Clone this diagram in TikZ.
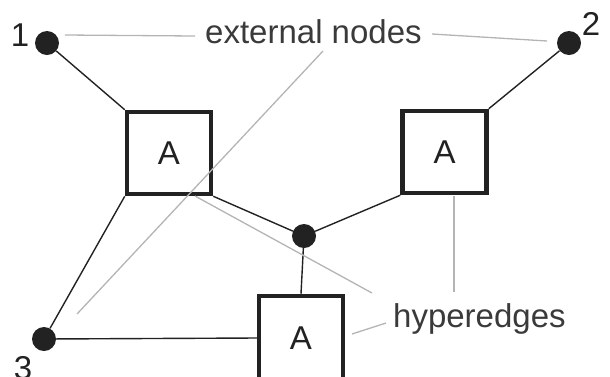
\documentclass[tikz,border=0pt]{standalone}
\usepackage{fontspec}
\setmainfont{Liberation Sans}
\definecolor{ink}{HTML}{222222}
\definecolor{labelgrey}{HTML}{3A3A3A}
\definecolor{leader}{HTML}{B4B4B4}
\tikzset{
  terminal/.style={circle, fill=ink, draw=none, minimum size=24pt, inner sep=0pt},
  module/.style={rectangle, draw=ink, line width=4.5pt, minimum width=84pt, minimum height=82pt,
                 inner sep=0pt, text=ink, font=\fontsize{33}{40}\selectfont},
  wire/.style={draw=ink, line width=1.4pt},
  leaderline/.style={draw=leader, line width=1.3pt},
  caption/.style={inner sep=0pt, text=labelgrey, font=\fontsize{33}{40}\selectfont},
  idx/.style={inner sep=0pt, text=ink, font=\fontsize{33}{40}\selectfont}
}
\begin{document}
\begin{tikzpicture}[x=1pt, y=-1pt]
\useasboundingbox (0,0) rectangle (610,376);
\begin{scope}
\clip (0,0) rectangle (610,376);

% external terminals
\node[terminal] (n1) at (47,43) {};
\node[terminal] (n2) at (569,43) {};
\node[terminal] (n3) at (44,339) {};
\node[terminal] (hub) at (304,236) {};

\node[idx, anchor=base] at (20,46) {1};
\node[idx, anchor=base] at (591,35) {2};
\node[idx, anchor=base] at (23,379) {3};

% hyperedge modules
\node[module] (a1) at (169,153) {A};
\node[module] (a2) at (444.5,152) {A};
\node[module, minimum height=84pt] (a3) at (301,338) {A};

% connections
\draw[wire] (n1) -- (a1.north west);
\draw[wire] (n2) -- (a2.north east);
\draw[wire] (a1.south west) -- (n3);
\draw[wire] (n3) -- (a3.west);
\draw[wire] (a1.south east) -- (hub);
\draw[wire] (a2.south west) -- (hub);
\draw[wire] (hub) -- (a3.north);

% annotations
\node[caption, anchor=base west] (ext) at (205,43) {external nodes};
\node[caption, anchor=base west] (hyp) at (393,327) {hyperedges};

\coordinate (e1a) at (195,36);  \coordinate (e1b) at (65,35);
\coordinate (e2a) at (432,34);  \coordinate (e2b) at (547,41);
\coordinate (e3a) at (323,51);  \coordinate (e3b) at (77,314);
\coordinate (h1a) at (454,196); \coordinate (h1b) at (454,292);
\coordinate (h2a) at (195,196); \coordinate (h2b) at (372,293);
\coordinate (h3a) at (386,323); \coordinate (h3b) at (352,334);

\draw[leaderline] (e1a) -- (e1b);
\draw[leaderline] (e2a) -- (e2b);
\draw[leaderline] (e3a) -- (e3b);
\draw[leaderline] (h1a) -- (h1b);
\draw[leaderline] (h2a) -- (h2b);
\draw[leaderline] (h3a) -- (h3b);
\end{scope}
\end{tikzpicture}
\end{document}
